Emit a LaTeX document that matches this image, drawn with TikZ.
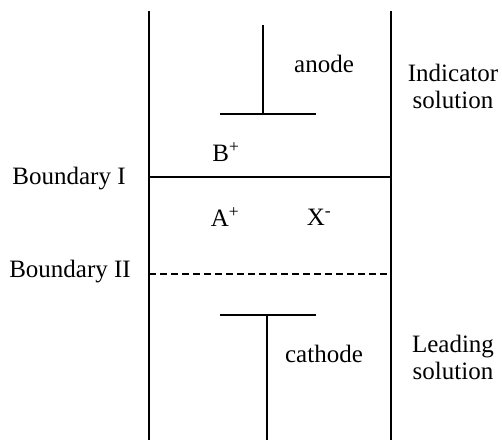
\documentclass[tikz,border=0pt]{standalone}
\usepackage{fontspec}
\setmainfont{Liberation Serif}
\usetikzlibrary{positioning}
\tikzset{
  wall/.style={line width=1.5pt, black},
  lbl/.style={inner sep=0pt, font=\fontsize{25}{27}\selectfont, align=center},
}
\begin{document}
\begin{tikzpicture}[x=1pt, y=-1pt]
  \useasboundingbox (0,0) rectangle (502,441);
  % tube walls
  \coordinate (wlt) at (149,11);
  \coordinate (wlb) at (149,440);
  \coordinate (wrt) at (391,11);
  \coordinate (wrb) at (391,440);
  \draw[wall] (wlt) -- (wlb);
  \draw[wall] (wrt) -- (wrb);
  % boundaries
  \coordinate (bIl) at (149,177);
  \coordinate (bIr) at (391,177);
  \coordinate (bIIl) at (149,274);
  \coordinate (bIIr) at (391,274);
  \draw[wall] (bIl) -- (bIr);
  \draw[wall, dash pattern=on 7pt off 4pt] (bIIl) -- (bIIr);
  % electrodes
  \coordinate (at) at (263,25);
  \coordinate (ab) at (263,114);
  \coordinate (al) at (220,114);
  \coordinate (ar) at (316,114);
  \draw[wall] (at) -- (ab);
  \draw[wall] (al) -- (ar);
  \coordinate (ct) at (267,315);
  \coordinate (cb) at (267,440);
  \coordinate (cl) at (220,315);
  \coordinate (cr) at (316,315);
  \draw[wall] (ct) -- (cb);
  \draw[wall] (cl) -- (cr);
  % labels
  \node[lbl] (anode) at (324,64) {anode};
  \node[lbl] (cathode) at (324,354) {cathode};
  \node[lbl] (indicator) at (453,86) {Indicator\\solution};
  \node[lbl] (leading) at (453,357) {Leading\\solution};
  \node[lbl] (bndI) at (69,179) {Boundary I};
  \node[lbl] (bndII) at (70,272) {Boundary II};
  \node[lbl] (bplus) at (226,152) {B\textsuperscript{+}};
  \node[lbl] (aplus) at (225,217) {A\textsuperscript{+}};
  \node[lbl] (xminus) at (319,217) {X\textsuperscript{-}};
\end{tikzpicture}
\end{document}
